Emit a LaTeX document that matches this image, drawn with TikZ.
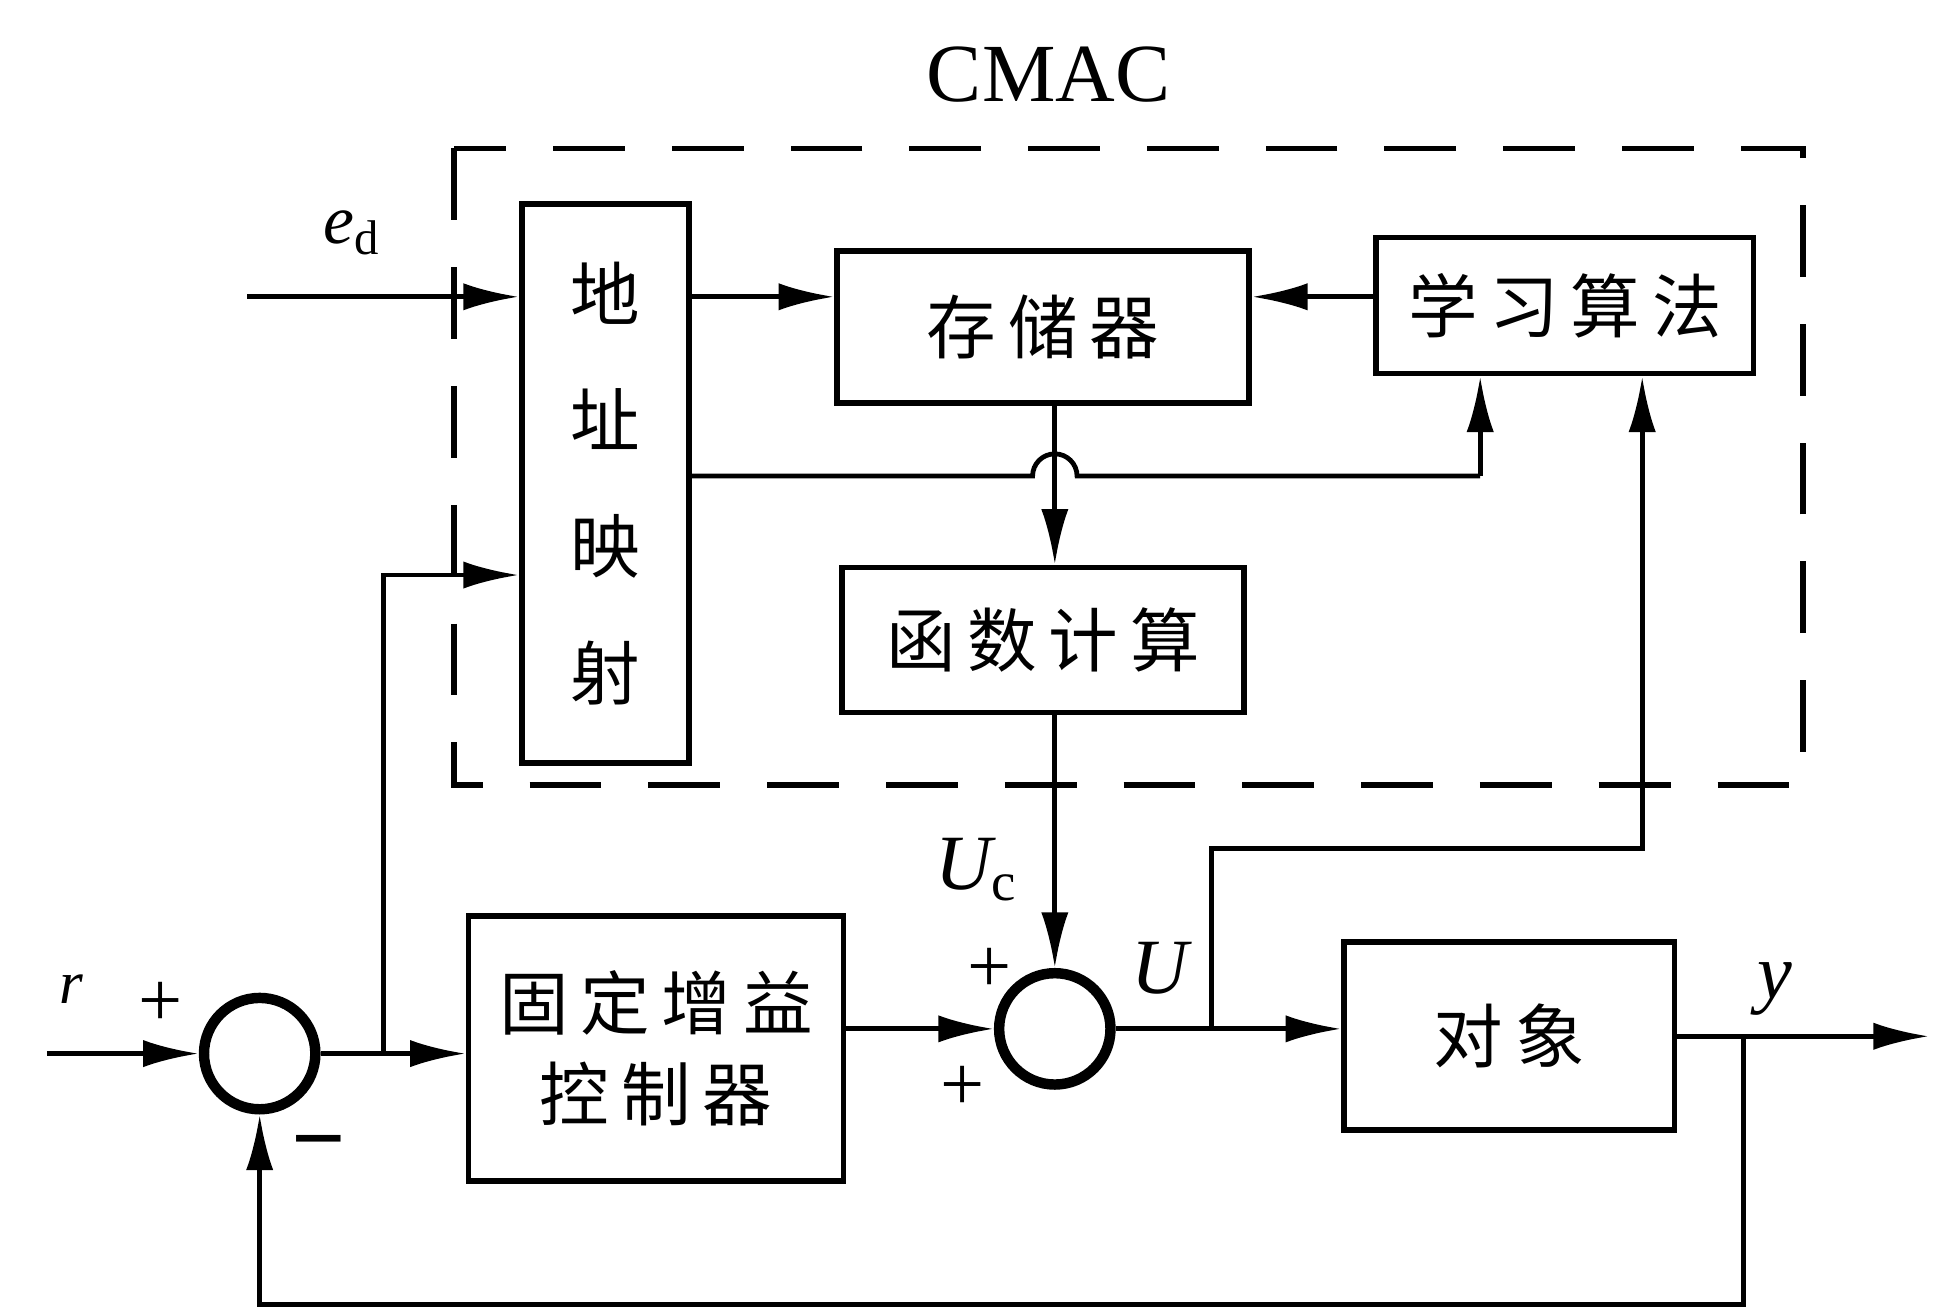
\documentclass[tikz,border=0pt]{standalone}
\usepackage{fontspec}
\setmainfont{Liberation Serif}
\newfontfamily\cjk{Noto Sans CJK SC}
\usetikzlibrary{arrows.meta}
\newcommand\gapc{\hspace{0.17em}}
\begin{document}
\begin{tikzpicture}[x=0.01cm,y=-0.01cm,
  blk/.style={draw,line width=1.3pt,inner sep=0pt,font=\cjk\fontsize{16}{21}\selectfont,align=center},
  sumc/.style={draw,circle,line width=2.4pt,minimum size=0.9cm,inner sep=0pt},
  conn/.style={line width=1.1pt},
  arr/.style={conn,-{Latex[length=4.5mm,width=2.2mm]}},
  lbl/.style={inner sep=0pt,font=\fontsize{18}{20}\selectfont},
  ilbl/.style={inner sep=0pt,font=\fontsize{18}{20}\selectfont\itshape}]
\useasboundingbox (0,0) rectangle (1568,1060);
\fill[white] (0,0) rectangle (1568,1060);

% title and CMAC border
\node[inner sep=0pt,font=\fontsize{19}{22}\selectfont] (title) at (848,60) {CMAC};
\draw[line width=1.3pt,dash pattern=on 0.58cm off 0.38cm] (367,120) rectangle (1458,635);

% blocks
\node[blk,minimum width=1.35cm,minimum height=4.52cm,font=\cjk\fontsize{16}{29}\selectfont] (addr) at (489.5,391) {地\\址\\映\\射};
\node[blk,minimum width=3.33cm,minimum height=1.23cm] (mem) at (843.5,264.5) {存\gapc 储\gapc 器};
\node[blk,minimum width=3.05cm,minimum height=1.10cm] (learn) at (1265.5,247) {学\gapc 习\gapc 算\gapc 法};
\node[blk,minimum width=3.25cm,minimum height=1.17cm] (func) at (843.5,517.5) {函\gapc 数\gapc 计\gapc 算};
\node[blk,minimum width=3.03cm,minimum height=2.14cm] (fixed) at (530.5,848) {固\gapc 定\gapc 增\gapc 益\\控\gapc 制\gapc 器};
\node[blk,minimum width=2.67cm,minimum height=1.52cm] (plant) at (1220.5,838) {对\gapc 象};
\node[sumc] (s1) at (210,852) {};
\node[sumc] (s2) at (853,832) {};

% coordinates
\coordinate (ein) at (200,240);
\coordinate (vx) at (853,0);
\coordinate (lx1) at (1197,385);
\coordinate (lx2) at (1328,686);
\coordinate (rin) at (38,852);
\coordinate (eb) at (310,852);
\coordinate (ub) at (980,832);
\coordinate (yb) at (1410,838);
\coordinate (yout) at (1560,838);

% CMAC internal connectors
\draw[arr] (ein) -- (ein -| addr.west);
\draw[arr] (addr.east |- ein) -- (mem.west |- ein);
\draw[arr] (learn.west |- ein) -- (mem.east |- ein);
\draw[arr] (mem.south -| vx) -- (func.north -| vx);
\draw[conn] (addr.east |- lx1) -- (835,385) arc (180:360:18) -- (lx1);
\draw[arr] (lx1) -- (lx1 |- learn.south);

% lower loop
\draw[arr] (func.south -| vx) -- (s2.north);
\draw[arr] (rin) -- (s1.west);
\draw[arr] (s1.east) -- (fixed.west |- s1);
\draw[arr] (eb) -- (310,465) -- (addr.west |- 0,465);
\draw[arr] (fixed.east |- s2) -- (s2.west);
\draw[arr] (s2.east) -- (plant.west |- s2);
\draw[arr] (ub) -- (980,686) -- (lx2) -- (lx2 |- learn.south);
\draw[arr] (plant.east) -- (yout);
\draw[arr] (yb) -- (1410,1055) -- (210,1055) -- (s1.south);

% labels
\node[inner sep=0pt,font=\fontsize{16}{18}\selectfont] (led) at (285,188) {\textit{e}\textsubscript{d}};
\node[ilbl,font=\fontsize{14}{16}\selectfont\itshape] (lr) at (58,800) {r};
\node[lbl] (p1) at (130,812) {+};
\node[lbl,font=\fontsize{22}{24}\selectfont\bfseries] (m1) at (258,932) {−};
\node[ilbl] (luc) at (790,703) {U\textsubscript{\upshape c}};
\node[lbl] (p2) at (800,785) {+};
\node[lbl] (p3) at (778,880) {+};
\node[ilbl] (lu) at (938,783) {U};
\node[ilbl] (ly) at (1435,800) {y};
\end{tikzpicture}
\end{document}
